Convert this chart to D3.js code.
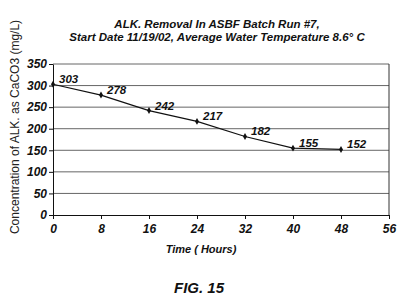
<!DOCTYPE html>
<html><head><meta charset="utf-8">
<script src="https://cdn.jsdelivr.net/npm/d3@7"></script>
<style>body{margin:0;background:#fff}svg{display:block}text{font-family:"Liberation Sans",Arial,sans-serif}</style>
</head><body>
<script>
const hours = [0, 8, 16, 24, 32, 40, 48];
const alk = [303, 278, 242, 217, 182, 155, 152];
const xTicks = [0, 8, 16, 24, 32, 40, 48, 56];
const yTicks = [0, 50, 100, 150, 200, 250, 300, 350];
const titleLines = ["ALK. Removal In ASBF Batch Run #7,", "Start Date 11/19/02, Average Water Temperature 8.6\u00b0 C"];

const W = 414, H = 307;
const m = {l: 53, r: 25, t: 64, b: 92};
const svg = d3.select("body").append("svg").attr("width", W).attr("height", H);
const x = d3.scaleLinear().domain([0, 56]).range([m.l, W - m.r]);
const y = d3.scaleLinear().domain([0, 350]).range([H - m.b, m.t]);

// gridlines
svg.append("g").selectAll("line").data(yTicks.filter(d => d > 0)).join("line")
  .attr("x1", x(0)).attr("x2", x(56)).attr("y1", d => y(d)).attr("y2", d => y(d))
  .attr("stroke", "#666").attr("stroke-width", 1);
// right border
svg.append("line").attr("x1", x(56)).attr("x2", x(56)).attr("y1", y(0)).attr("y2", y(350)).attr("stroke", "#333");

const xa = svg.append("g").attr("transform", `translate(0,${y(0)})`)
  .call(d3.axisBottom(x).tickValues(xTicks).tickSize(4).tickSizeOuter(0).tickPadding(5));
const ya = svg.append("g").attr("transform", `translate(${x(0)},0)`)
  .call(d3.axisLeft(y).tickValues(yTicks).tickSize(4).tickSizeOuter(0).tickPadding(2));
[xa, ya].forEach(a => {
  a.selectAll("text").attr("font-size", 12).attr("font-weight", "bold").attr("font-style", "italic")
    .attr("font-family", "Liberation Sans, Arial, sans-serif").attr("fill", "#111");
  a.select(".domain").attr("stroke", "#111");
  a.selectAll(".tick line").attr("stroke", "#111");
});

const pts = hours.map((h, i) => [h, alk[i]]);
svg.append("path").datum(pts)
  .attr("d", d3.line().x(d => x(d[0])).y(d => y(d[1])))
  .attr("fill", "none").attr("stroke", "#111").attr("stroke-width", 1.2);
svg.append("g").selectAll("path").data(pts).join("path")
  .attr("d", d3.symbol(d3.symbolDiamond, 14))
  .attr("transform", d => `translate(${x(d[0])},${y(d[1])})`).attr("fill", "#111");
svg.append("g").selectAll("text").data(pts).join("text")
  .attr("x", d => x(d[0]) + 6).attr("y", d => y(d[1]) - 1)
  .attr("font-size", 11.5).attr("font-weight", "bold").attr("font-style", "italic").attr("fill", "#111")
  .text(d => d[1]);

svg.append("g").selectAll("text").data(titleLines).join("text")
  .attr("x", 217).attr("y", (d, i) => 28 + i * 13).attr("text-anchor", "middle")
  .attr("font-size", 11.5).attr("font-weight", "bold").attr("font-style", "italic").attr("fill", "#111")
  .text(d => d);

svg.append("text").attr("x", 201).attr("y", 253).attr("text-anchor", "middle")
  .attr("font-size", 11).attr("font-weight", "bold").attr("font-style", "italic").attr("fill", "#111")
  .text("Time ( Hours)");

svg.append("text").attr("transform", "translate(19,127) rotate(-90)").attr("text-anchor", "middle")
  .attr("font-size", 12).attr("fill", "#222")
  .text("Concentration of ALK. as CaCO3 (mg/L)");

svg.append("text").attr("x", 199).attr("y", 293).attr("text-anchor", "middle")
  .attr("font-size", 15).attr("font-weight", "bold").attr("font-style", "italic").attr("fill", "#111")
  .text("FIG. 15");
</script>
</body></html>
